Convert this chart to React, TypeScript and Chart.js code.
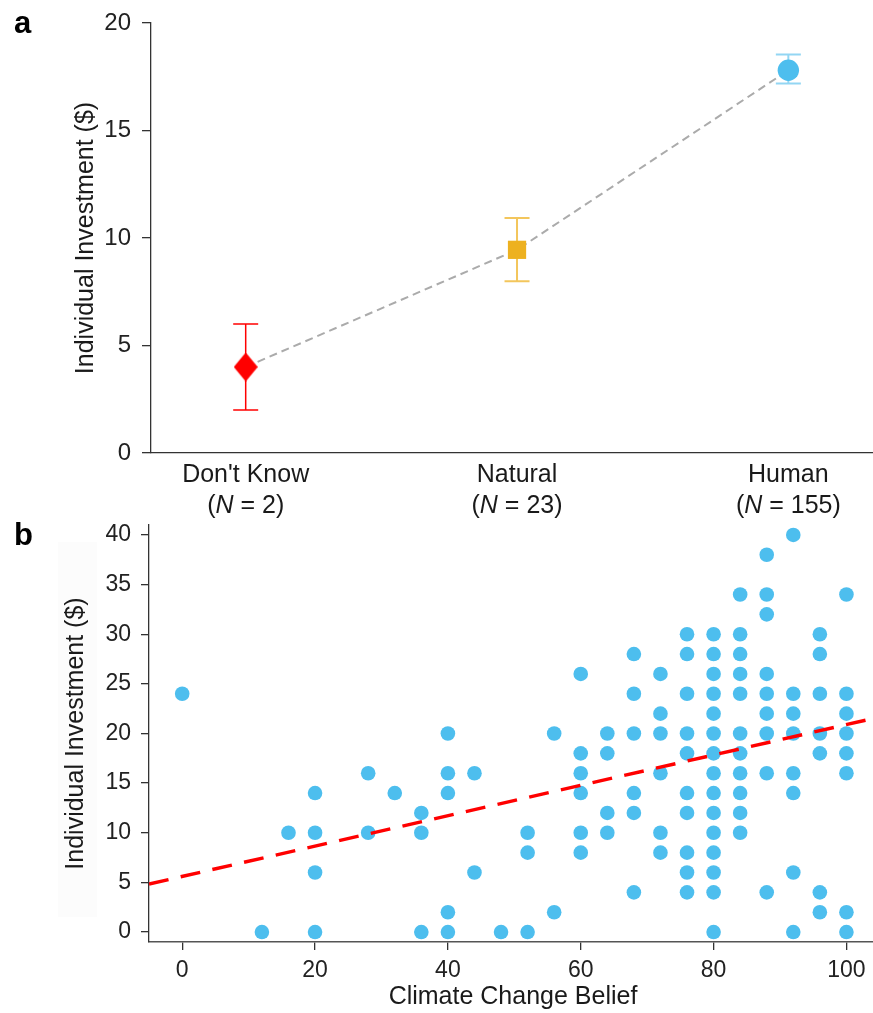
import React, { useEffect, useRef } from "react";
import { Chart, registerables } from "chart.js";

Chart.register(...registerables);

const FONT = "'Liberation Sans', Arial, Helvetica, sans-serif";
const TEXT = "#1a1a1a";
const AXIS = "#333333";

// ---------- Panel a ----------
const categoryLabels = ["Don't Know", "Natural", "Human"];
const categoryN = [2, 23, 155];
const categoryMeans = [4.0, 9.45, 17.8];
const categoryLower = [2.0, 7.99, 17.19];
const categoryUpper = [6.0, 10.93, 18.53];
const markerColors = ["#FF0000", "#EDB120", "#4DBEEE"];
const errorColors = ["#FF0000", "#F3C65C", "#93D6F3"];
const panelATicks = [0, 5, 10, 15, 20];

// ---------- Panel b ----------
const beliefLevels = [0, 12, 16, 20, 28, 32, 36, 40, 44, 48, 52, 56, 60, 64, 68, 72, 76, 80, 84, 88, 92, 96, 100];
const investmentsByBelief = [
  [24],
  [0],
  [10],
  [14, 10, 6, 0],
  [16, 10],
  [14],
  [12, 10, 0],
  [20, 16, 14, 2, 0],
  [16, 6],
  [0],
  [10, 8, 0],
  [20, 2],
  [26, 18, 16, 14, 10, 8],
  [20, 18, 12, 10],
  [28, 24, 20, 14, 12, 4],
  [26, 22, 20, 16, 10, 8],
  [30, 28, 24, 20, 18, 14, 12, 8, 6, 4],
  [30, 28, 26, 24, 22, 20, 18, 16, 14, 12, 10, 8, 6, 4, 0],
  [34, 30, 28, 26, 24, 20, 18, 16, 14, 12, 10],
  [38, 34, 32, 26, 24, 22, 20, 16, 4],
  [40, 24, 22, 20, 16, 14, 6, 0],
  [30, 28, 24, 20, 18, 4, 2],
  [34, 24, 22, 20, 18, 16, 2, 0],
];
const fitIntercept = 5.6;
const fitSlope = 0.153;
const beliefTicks = [0, 20, 40, 60, 80, 100];
const investTicks = [0, 5, 10, 15, 20, 25, 30, 35, 40];
const beliefMin = -5;
const beliefMax = 104;

function makeDiamond(w: number, h: number, color: string) {
  const c = document.createElement("canvas");
  c.width = w;
  c.height = h;
  const g = c.getContext("2d")!;
  g.fillStyle = color;
  g.beginPath();
  g.moveTo(w / 2, 0);
  g.lineTo(w, h / 2);
  g.lineTo(w / 2, h);
  g.lineTo(0, h / 2);
  g.closePath();
  g.fill();
  return c;
}

function drawNLabel(ctx: CanvasRenderingContext2D, n: number, cx: number, baseline: number) {
  const normal = `25px ${FONT}`;
  const italic = `italic 25px ${FONT}`;
  const parts: [string, string][] = [
    ["(", normal],
    ["N", italic],
    [" = " + n + ")", normal],
  ];
  let total = 0;
  const widths = parts.map(([t, f]) => {
    ctx.font = f;
    const w = ctx.measureText(t).width;
    total += w;
    return w;
  });
  let x = cx - total / 2;
  ctx.textAlign = "left";
  parts.forEach(([t, f], i) => {
    ctx.font = f;
    ctx.fillText(t, x, baseline);
    x += widths[i];
  });
}

function fixSize(prop: "width" | "height", value: number) {
  return (s: any) => {
    s[prop] = value;
    s.paddingTop = 0;
    s.paddingBottom = 0;
    s.paddingLeft = 0;
    s.paddingRight = 0;
  };
}

export default function App() {
  const refA = useRef<HTMLCanvasElement>(null);
  const refB = useRef<HTMLCanvasElement>(null);

  useEffect(() => {
    document.body.style.margin = "0";
    const charts: Chart[] = [];

    // ----- Panel a -----
    const diamond = makeDiamond(24, 29, markerColors[0]);
    const pointStyles: any[] = [diamond, "rect", "circle"];
    const pointRadii = [12, 12.9, 10.7];

    const panelAPlugin = {
      id: "panelA",
      beforeDatasetsDraw(chart: any) {
        const { ctx, scales } = chart;
        const x = scales.x;
        const y = scales.y;
        ctx.save();
        categoryMeans.forEach((_m, i) => {
          const px = x.getPixelForValue(i);
          const top = y.getPixelForValue(categoryUpper[i]);
          const bot = y.getPixelForValue(categoryLower[i]);
          ctx.strokeStyle = errorColors[i];
          ctx.lineWidth = i === 0 ? 1.5 : 2;
          ctx.beginPath();
          ctx.moveTo(px, top);
          ctx.lineTo(px, bot);
          ctx.moveTo(px - 12.5, top);
          ctx.lineTo(px + 12.5, top);
          ctx.moveTo(px - 12.5, bot);
          ctx.lineTo(px + 12.5, bot);
          ctx.stroke();
        });
        ctx.restore();
      },
      afterDraw(chart: any) {
        const { ctx, scales, chartArea } = chart;
        const x = scales.x;
        ctx.save();
        ctx.fillStyle = TEXT;
        ctx.textBaseline = "alphabetic";
        categoryLabels.forEach((lab, i) => {
          const px = x.getPixelForValue(i);
          ctx.font = `25px ${FONT}`;
          ctx.textAlign = "center";
          ctx.fillText(lab, px, chartArea.bottom + 29);
          drawNLabel(ctx, categoryN[i], px, chartArea.bottom + 60);
        });
        // y title
        ctx.save();
        ctx.translate(92.7, (chartArea.top + chartArea.bottom) / 2);
        ctx.rotate(-Math.PI / 2);
        ctx.font = `25px ${FONT}`;
        ctx.textAlign = "center";
        ctx.fillText("Individual Investment ($)", 0, 0);
        ctx.restore();
        // panel letter
        ctx.font = `bold 31px ${FONT}`;
        ctx.textAlign = "left";
        ctx.fillStyle = "#000";
        ctx.fillText("a", 14, 33);
        ctx.restore();
      },
    };

    const chartA = new Chart(refA.current!, {
      type: "scatter",
      data: {
        datasets: [
          ...categoryMeans.map((m, i) => ({
            label: categoryLabels[i],
            data: [{ x: i, y: m }],
            pointStyle: pointStyles[i],
            pointRadius: pointRadii[i],
            backgroundColor: markerColors[i],
            borderColor: markerColors[i],
            pointBorderWidth: 0,
            order: 0,
          })),
          {
            label: "trend",
            data: categoryMeans.map((m, i) => ({ x: i, y: m })),
            showLine: true,
            borderColor: "#ababab",
            borderWidth: 2,
            borderDash: [8, 5],
            pointRadius: 0,
            order: 10,
          } as any,
        ],
      },
      options: {
        animation: false,
        responsive: false,
        events: [],
        layout: { autoPadding: false, padding: { top: 23, right: 0, left: 0, bottom: 0 } },
        plugins: { legend: { display: false }, tooltip: { enabled: false } },
        scales: {
          x: {
            type: "linear",
            min: -0.349,
            max: 2.312,
            ticks: { display: false },
            grid: { display: false },
            border: { display: true, color: AXIS, width: 1.3 },
            afterFit: fixSize("height", 67),
          },
          y: {
            type: "linear",
            min: 0,
            max: 20,
            afterBuildTicks: (s: any) => {
              s.ticks = panelATicks.map((v) => ({ value: v }));
            },
            ticks: { font: { family: FONT, size: 24 }, color: "#222", padding: 11 },
            grid: { drawOnChartArea: false, tickLength: 9, color: AXIS, lineWidth: 1.3 },
            border: { display: true, color: AXIS, width: 1.3 },
            afterFit: fixSize("width", 151),
          },
        },
      },
      plugins: [panelAPlugin],
    } as any);
    charts.push(chartA);

    // ----- Panel b -----
    const scatterPoints: { x: number; y: number }[] = [];
    beliefLevels.forEach((b, i) => {
      investmentsByBelief[i].forEach((v) => scatterPoints.push({ x: b, y: v }));
    });
    const fitLine = [beliefMin, beliefMax].map((b) => ({ x: b, y: fitIntercept + fitSlope * b }));

    const panelBPlugin = {
      id: "panelB",
      beforeDraw(chart: any) {
        const { ctx } = chart;
        ctx.save();
        ctx.fillStyle = "rgba(0,0,0,0.012)";
        ctx.fillRect(58, 32, 39, 375);
        ctx.restore();
      },
      afterDraw(chart: any) {
        const { ctx, chartArea } = chart;
        ctx.save();
        ctx.fillStyle = TEXT;
        ctx.textBaseline = "alphabetic";
        ctx.font = `25px ${FONT}`;
        ctx.textAlign = "center";
        ctx.fillText("Climate Change Belief", (chartArea.left + chartArea.right) / 2 + 2, 494);
        ctx.save();
        ctx.translate(83.3, (chartArea.top + chartArea.bottom) / 2);
        ctx.rotate(-Math.PI / 2);
        ctx.fillText("Individual Investment ($)", 0, 0);
        ctx.restore();
        ctx.font = `bold 31px ${FONT}`;
        ctx.textAlign = "left";
        ctx.fillStyle = "#000";
        ctx.fillText("b", 14, 35);
        ctx.restore();
      },
    };

    const chartB = new Chart(refB.current!, {
      type: "scatter",
      data: {
        datasets: [
          {
            label: "fit",
            data: fitLine,
            showLine: true,
            borderColor: "#FF0000",
            borderWidth: 3.5,
            borderDash: [20, 12.5],
            pointRadius: 0,
            order: 0,
          } as any,
          {
            label: "participants",
            data: scatterPoints,
            backgroundColor: "#4DBEEE",
            borderColor: "#4DBEEE",
            pointRadius: 7.3,
            pointBorderWidth: 0,
            order: 1,
          },
        ],
      },
      options: {
        animation: false,
        responsive: false,
        events: [],
        layout: { autoPadding: false, padding: { top: 15, right: 0, left: 0, bottom: 0 } },
        plugins: { legend: { display: false }, tooltip: { enabled: false } },
        scales: {
          x: {
            type: "linear",
            min: beliefMin,
            max: beliefMax,
            afterBuildTicks: (s: any) => {
              s.ticks = beliefTicks.map((v) => ({ value: v }));
            },
            ticks: { font: { family: FONT, size: 23 }, color: "#222", padding: 7, maxRotation: 0 },
            grid: { drawOnChartArea: false, tickLength: 8, color: AXIS, lineWidth: 1.3 },
            border: { display: true, color: "#555", width: 1.5 },
            afterFit: fixSize("height", 71),
          },
          y: {
            type: "linear",
            min: -1,
            max: 41,
            afterBuildTicks: (s: any) => {
              s.ticks = investTicks.map((v) => ({ value: v }));
            },
            ticks: { font: { family: FONT, size: 23 }, color: "#222", padding: 10 },
            grid: { drawOnChartArea: false, tickLength: 8, color: AXIS, lineWidth: 1.3 },
            border: { display: true, color: AXIS, width: 1.3 },
            afterFit: fixSize("width", 149),
          },
        },
      },
      plugins: [panelBPlugin],
    } as any);
    charts.push(chartB);

    return () => charts.forEach((c) => c.destroy());
  }, []);

  return (
    <div style={{ position: "absolute", left: 0, top: 0, width: 873, height: 1013, background: "#fff" }}>
      <canvas
        ref={refA}
        width={873}
        height={520}
        style={{ position: "absolute", left: 0, top: 0, width: 873, height: 520 }}
      />
      <canvas
        ref={refB}
        width={873}
        height={503}
        style={{ position: "absolute", left: 0, top: 510, width: 873, height: 503 }}
      />
    </div>
  );
}
